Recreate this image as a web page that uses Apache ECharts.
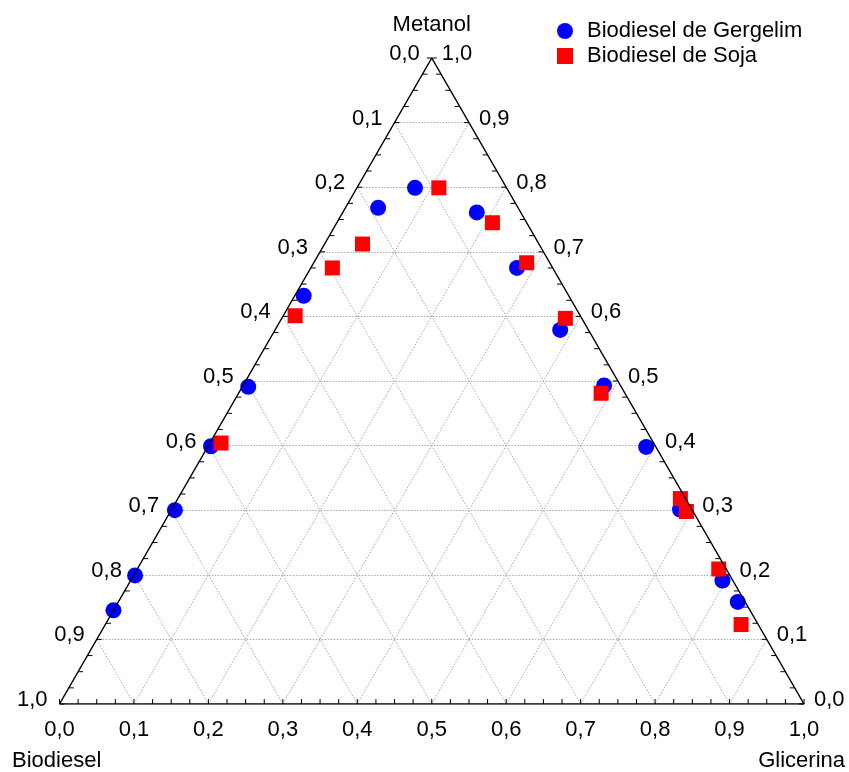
<!DOCTYPE html>
<html>
<head>
<meta charset="utf-8">
<script src="https://cdn.jsdelivr.net/npm/echarts@6/dist/echarts.min.js"></script>
<style>
html,body{margin:0;padding:0;background:#fff;}
#chart{width:849px;height:772px;}
</style>
</head>
<body>
<div id="chart"></div>
<script>
// composições: fração de metanol e de glicerina (biodiesel = 1 - metanol - glicerina)
var gergelimMetanol   = [0.799, 0.768, 0.761, 0.675, 0.579, 0.493, 0.398, 0.301, 0.191, 0.158, 0.632, 0.491, 0.399, 0.300, 0.199, 0.145];
var gergelimGlicerina = [0.078, 0.044, 0.180, 0.277, 0.383, 0.485, 0.589, 0.683, 0.795, 0.832, 0.012, 0.008, 0.004, 0.005, 0.002, 0.000];
var sojaMetanol   = [0.799, 0.745, 0.683, 0.597, 0.481, 0.318, 0.298, 0.209, 0.123, 0.712, 0.675, 0.601, 0.404];
var sojaGlicerina = [0.110, 0.209, 0.286, 0.381, 0.487, 0.675, 0.693, 0.781, 0.854, 0.051, 0.029, 0.016, 0.015];

var tickLabels = ['0,0', '0,1', '0,2', '0,3', '0,4', '0,5', '0,6', '0,7', '0,8', '0,9', '1,0'];
var vertexNames = ['Metanol', 'Biodiesel', 'Glicerina'];
var seriesNames = ['Biodiesel de Gergelim', 'Biodiesel de Soja'];

var FONT = '22px "Liberation Sans", Arial, sans-serif';

// ternario -> plano (x = glicerina + metanol/2, y = metanol)
function toXY(m, g) {
    return [g + m / 2, m];
}

var gergelimData = gergelimMetanol.map(function (m, i) { return toXY(m, gergelimGlicerina[i]); });
var sojaData = sojaMetanol.map(function (m, i) { return toXY(m, sojaGlicerina[i]); });

// linhas de grade a cada 0,1
var gridLines = [];
for (var k = 1; k < 10; k++) {
    var f = k / 10;
    gridLines.push({ coords: [toXY(f, 0), toXY(f, 1 - f)] });      // metanol constante
    gridLines.push({ coords: [toXY(0, f), toXY(1 - f, f)] });      // glicerina constante
    gridLines.push({ coords: [toXY(0, 1 - f), toXY(1 - f, 0)] });  // biodiesel constante
}

// marcas menores a cada 0,025
var leftTicks = [], rightTicks = [], bottomTicks = [];
for (var i = 0; i <= 40; i++) {
    var t = i / 40;
    leftTicks.push(toXY(t, 0));
    rightTicks.push(toXY(t, 1 - t));
    bottomTicks.push(toXY(0, t));
}

var leftPos = [], rightPos = [], bottomPos = [];
for (var j = 0; j <= 10; j++) {
    leftPos.push(toXY(j / 10, 0));
    rightPos.push(toXY(j / 10, 1 - j / 10));
    bottomPos.push(toXY(0, j / 10));
}
var leftTexts = leftPos.map(function (p, idx) { return tickLabels[10 - idx]; });
var rightTexts = rightPos.map(function (p, idx) { return tickLabels[idx]; });
var bottomTexts = bottomPos.map(function (p, idx) { return tickLabels[idx]; });

function tickItem(dx, dy) {
    return function (params, api) {
        var p = api.coord([api.value(0), api.value(1)]);
        return {
            type: 'line',
            shape: { x1: p[0], y1: p[1], x2: p[0] + dx, y2: p[1] + dy },
            style: { stroke: '#000', lineWidth: 1 }
        };
    };
}

function labelItem(texts, offsets, align) {
    return function (params, api) {
        var p = api.coord([api.value(0), api.value(1)]);
        var o = Array.isArray(offsets[0]) ? offsets[params.dataIndex] : offsets;
        var a = Array.isArray(align) ? align[params.dataIndex] : align;
        return {
            type: 'text',
            x: p[0] + o[0],
            y: p[1] + o[1],
            style: {
                text: texts[params.dataIndex],
                fill: '#000',
                font: FONT,
                align: a,
                verticalAlign: 'middle'
            }
        };
    };
}

var myChart = echarts.init(document.getElementById('chart'));

var option = {
    animation: false,
    backgroundColor: '#fff',
    textStyle: { fontFamily: '"Liberation Sans", Arial, sans-serif' },
    grid: { left: 59.5, top: 58, width: 744.5, height: 646, containLabel: false },
    xAxis: { type: 'value', min: 0, max: 1, show: false },
    yAxis: { type: 'value', min: 0, max: 1, show: false },
    legend: {
        orient: 'vertical',
        left: 552,
        top: 15,
        itemWidth: 26,
        itemHeight: 16,
        itemGap: 3,
        selectedMode: false,
        textStyle: { fontSize: 22, color: '#000', fontFamily: '"Liberation Sans", Arial, sans-serif', padding: [0, 0, 0, 4] },
        data: [
            { name: seriesNames[0], icon: 'circle' },
            { name: seriesNames[1], icon: 'path://M0,0L10,0L10,10L0,10Z' }
        ]
    },
    series: [
        {
            type: 'lines',
            coordinateSystem: 'cartesian2d',
            silent: true,
            lineStyle: { color: '#a8a8a8', width: 1, type: [1.5, 1.5], opacity: 1 },
            data: gridLines
        },
        {
            type: 'line',
            silent: true,
            symbol: 'none',
            lineStyle: { color: '#000', width: 1.5 },
            data: [toXY(0, 0), toXY(1, 0), toXY(0, 1), toXY(0, 0)]
        },
        { type: 'custom', silent: true, clip: false, renderItem: tickItem(5, 0), data: leftTicks },
        { type: 'custom', silent: true, clip: false, renderItem: tickItem(-5, 0), data: rightTicks },
        { type: 'custom', silent: true, clip: false, renderItem: tickItem(0, -5), data: bottomTicks },
        { type: 'custom', silent: true, clip: false, renderItem: labelItem(leftTexts, [-12, -4], 'right'), data: leftPos },
        { type: 'custom', silent: true, clip: false, renderItem: labelItem(rightTexts, [10, -4], 'left'), data: rightPos },
        { type: 'custom', silent: true, clip: false, renderItem: labelItem(bottomTexts, [0, 26], 'center'), data: bottomPos },
        {
            type: 'custom', silent: true, clip: false,
            renderItem: labelItem(vertexNames, [[0, -33], [-47.5, 57], [41, 57]], ['center', 'left', 'right']),
            data: [toXY(1, 0), toXY(0, 0), toXY(0, 1)]
        },
        {
            name: seriesNames[0],
            type: 'scatter',
            symbol: 'circle',
            symbolSize: 16,
            itemStyle: { color: '#0000ff', opacity: 1 },
            data: gergelimData
        },
        {
            name: seriesNames[1],
            type: 'scatter',
            symbol: 'rect',
            symbolSize: 15,
            itemStyle: { color: '#ff0000', opacity: 1 },
            data: sojaData
        }
    ]
};

myChart.setOption(option);
</script>
</body>
</html>
